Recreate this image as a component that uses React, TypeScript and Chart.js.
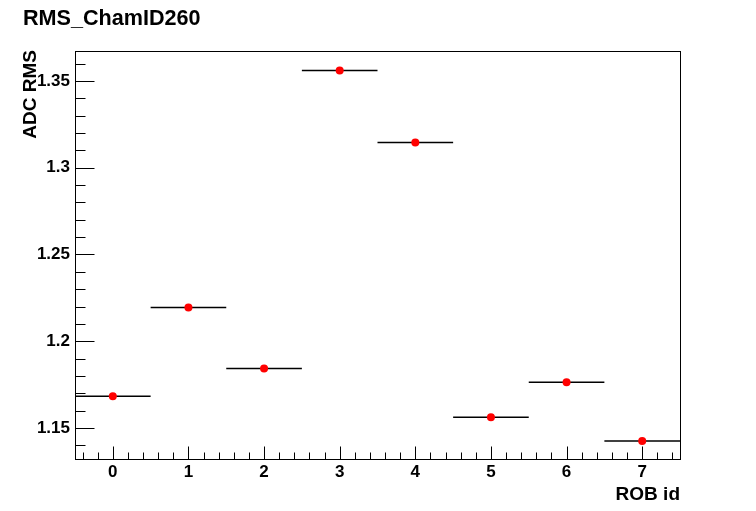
import React, { useEffect, useRef } from "react";
import { Chart, registerables } from "chart.js";

Chart.register(...registerables);

// ---- data ----
const titleText = "RMS_ChamID260";
const xAxisTitle = "ROB id";
const yAxisTitle = "ADC RMS";
const robIds = [0, 1, 2, 3, 4, 5, 6, 7];
const rmsValues = [1.1683, 1.2195, 1.1843, 1.3561, 1.3146, 1.1562, 1.1764, 1.1425];
const xErrors = [0.5, 0.5, 0.5, 0.5, 0.5, 0.5, 0.5, 0.5];
const xTickValues = [0, 1, 2, 3, 4, 5, 6, 7];
const xTickLabels = ["0", "1", "2", "3", "4", "5", "6", "7"];
const yTickValues = [1.15, 1.2, 1.25, 1.3, 1.35];
const yTickLabels = ["1.15", "1.2", "1.25", "1.3", "1.35"];
const xRange = [-0.5, 7.5];
const yRange = [1.1321, 1.3673];
const xMinorStep = 0.2;
const yMinorStep = 0.01;

const FONT = "'Liberation Sans', Arial, Helvetica, sans-serif";

const rootStylePlugin = {
  id: "rootStyle",
  beforeDatasetsDraw(chart: any) {
    const ctx = chart.ctx;
    const xs = chart.scales.x;
    const ys = chart.scales.y;
    ctx.save();
    ctx.strokeStyle = "#000";
    ctx.lineWidth = 1.5;
    robIds.forEach((id, i) => {
      const y = ys.getPixelForValue(rmsValues[i]);
      ctx.beginPath();
      ctx.moveTo(xs.getPixelForValue(id - xErrors[i]), y);
      ctx.lineTo(xs.getPixelForValue(id + xErrors[i]), y);
      ctx.stroke();
    });
    ctx.restore();
  },
  afterDraw(chart: any) {
    const ctx = chart.ctx;
    const a = chart.chartArea;
    const xs = chart.scales.x;
    const ys = chart.scales.y;
    ctx.save();
    ctx.strokeStyle = "#000";
    ctx.lineWidth = 1;
    const L = Math.round(a.left) + 0.5;
    const R = Math.round(a.right) + 0.5;
    const T = Math.round(a.top) + 0.5;
    const B = Math.round(a.bottom) + 0.5;
    ctx.strokeRect(L, T, R - L, B - T);

    // x ticks (inside, from bottom)
    const xMajorLen = 13;
    const xMinorLen = 7;
    ctx.beginPath();
    for (let v = Math.ceil(xRange[0] / xMinorStep) * xMinorStep; v <= xRange[1] + 1e-9; v += xMinorStep) {
      const px = Math.round(xs.getPixelForValue(v)) + 0.5;
      const isMajor = Math.abs(v - Math.round(v)) < 1e-6;
      ctx.moveTo(px, B);
      ctx.lineTo(px, B - (isMajor ? xMajorLen : xMinorLen));
    }
    // y ticks (inside, from left)
    const yMajorLen = 19;
    const yMinorLen = 10;
    for (let k = Math.ceil(yRange[0] / yMinorStep); k * yMinorStep <= yRange[1] + 1e-9; k++) {
      const v = k * yMinorStep;
      const py = Math.round(ys.getPixelForValue(v)) + 0.5;
      const isMajor = k % 5 === 0;
      ctx.moveTo(L, py);
      ctx.lineTo(L + (isMajor ? yMajorLen : yMinorLen), py);
    }
    ctx.stroke();

    // title
    ctx.fillStyle = "#000";
    ctx.font = `bold 21.6px ${FONT}`;
    ctx.textAlign = "left";
    ctx.textBaseline = "alphabetic";
    ctx.fillText(titleText, 23, 25);

    // x axis title
    ctx.font = `bold 19px ${FONT}`;
    ctx.textAlign = "right";
    ctx.fillText(xAxisTitle, a.right, 500);

    // y axis title
    ctx.save();
    ctx.translate(36, a.top - 1);
    ctx.rotate(-Math.PI / 2);
    ctx.textAlign = "right";
    ctx.fillText(yAxisTitle, 0, 0);
    ctx.restore();

    ctx.restore();
  },
};

export default function App() {
  const ref = useRef<HTMLCanvasElement | null>(null);
  useEffect(() => {
    document.body.style.margin = "0";
    const canvas = ref.current;
    if (!canvas) return;
    const chart = new Chart(canvas, {
      type: "scatter",
      data: {
        datasets: [
          {
            data: robIds.map((x, i) => ({ x, y: rmsValues[i] })),
            backgroundColor: "#ff0000",
            borderColor: "#ff0000",
            pointRadius: 4,
            pointBorderWidth: 0,
            pointHoverRadius: 4,
          },
        ],
      },
      options: {
        responsive: false,
        animation: false,
        events: [],
        layout: { padding: { top: 51, right: 76, left: 0, bottom: 0 } },
        plugins: {
          legend: { display: false },
          tooltip: { enabled: false },
          title: { display: false },
        },
        scales: {
          x: {
            type: "linear",
            min: xRange[0],
            max: xRange[1],
            grid: { display: false, drawTicks: false },
            border: { display: false },
            afterBuildTicks: (s: any) => {
              s.ticks = xTickValues.map((v) => ({ value: v }));
            },
            afterFit: (s: any) => {
              s.height = 52;
            },
            ticks: {
              color: "#000",
              padding: 3,
              maxRotation: 0,
              autoSkip: false,
              font: { family: FONT, size: 17, weight: "bold" },
              callback: (v: any) => {
                const i = xTickValues.indexOf(Number(v));
                return i >= 0 ? xTickLabels[i] : "";
              },
            },
          },
          y: {
            type: "linear",
            min: yRange[0],
            max: yRange[1],
            grid: { display: false, drawTicks: false },
            border: { display: false },
            afterBuildTicks: (s: any) => {
              s.ticks = yTickValues.map((v) => ({ value: v }));
            },
            afterFit: (s: any) => {
              s.width = 75;
            },
            ticks: {
              color: "#000",
              padding: 5,
              autoSkip: false,
              font: { family: FONT, size: 17, weight: "bold" },
              callback: (v: any) => {
                const i = yTickValues.findIndex((t) => Math.abs(t - Number(v)) < 1e-9);
                return i >= 0 ? yTickLabels[i] : "";
              },
            },
          },
        },
      },
      plugins: [rootStylePlugin],
    } as any);
    return () => chart.destroy();
  }, []);
  return (
    <div style={{ width: 756, height: 511, background: "#fff" }}>
      <canvas ref={ref} width={756} height={511} style={{ display: "block" }} />
    </div>
  );
}
